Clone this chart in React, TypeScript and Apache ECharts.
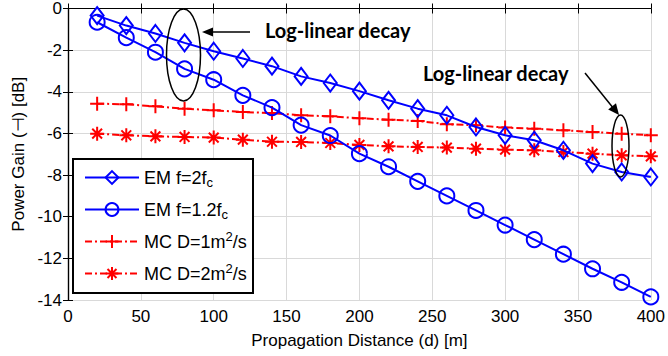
import React, { useEffect, useRef } from "react";
import * as echarts from "echarts";

const distances = [20, 40, 60, 80, 100, 120, 140, 160, 180, 200, 220, 240, 260, 280, 300, 320, 340, 360, 380, 400];
const emF2 = [-0.34, -0.82, -1.2, -1.65, -2.05, -2.4, -2.77, -3.26, -3.58, -3.97, -4.41, -4.81, -5.13, -5.69, -6.09, -6.33, -6.81, -7.45, -7.85, -8.09];
const emF12 = [-0.66, -1.4, -2.1, -2.9, -3.42, -4.17, -4.76, -5.6, -6.1, -6.97, -7.6, -8.3, -9.0, -9.7, -10.4, -11.1, -11.8, -12.5, -13.15, -13.85];
const mcD1 = [-4.57, -4.6, -4.7, -4.81, -4.89, -4.97, -5.02, -5.13, -5.18, -5.27, -5.34, -5.4, -5.56, -5.61, -5.72, -5.77, -5.85, -5.93, -6.01, -6.09];
const mcD2 = [-6.01, -6.09, -6.14, -6.17, -6.2, -6.3, -6.4, -6.41, -6.46, -6.55, -6.62, -6.65, -6.68, -6.73, -6.78, -6.81, -6.89, -6.97, -7.05, -7.1];

const seriesNames = ["EM f=2fc", "EM f=1.2fc", "MC D=1m2/s", "MC D=2m2/s"];
const legendRich = [
  "{t|EM f=2f}{sub|c}",
  "{t|EM f=1.2f}{sub|c}",
  "{t|MC D=1m}{sup|2}{t|/s}",
  "{t|MC D=2m}{sup|2}{t|/s}",
];
const annotationText = "Log-linear decay";

const FONT = "'Liberation Sans', Arial, sans-serif";
const BLUE = "#0000ff";
const RED = "#ff0000";

const pair = (ys: number[]) => distances.map((x, i) => [x, ys[i]]);

export default function App() {
  const ref = useRef<HTMLDivElement>(null);
  useEffect(() => {
    if (!ref.current) return;
    const chart = echarts.init(ref.current, null, { renderer: "svg" });
    const plus = "path://M0,-10L0,10M-10,0L10,0";
    const star = "path://M0,-10L0,10M-10,0L10,0M-7,-7L7,7M-7,7L7,-7";
    const axisCommon = {
      axisLine: { show: true, lineStyle: { color: "#000", width: 1.2 } },
      axisTick: { show: true, inside: true, length: 5, lineStyle: { color: "#000" } },
    };
    const annFont = "bold 20px Lato, 'Open Sans', sans-serif";
    chart.setOption({
      animation: false,
      backgroundColor: "#fff",
      grid: { left: 68, right: 16, top: 8, bottom: 56, show: false },
      xAxis: [
        {
          type: "value",
          min: 0,
          max: 400,
          interval: 50,
          ...axisCommon,
          axisLabel: { color: "#000", fontSize: 17, fontFamily: FONT, margin: 8 },
          splitLine: { show: true, lineStyle: { color: "#d9d9d9", width: 1 } },
          name: "Propagation Distance (d) [m]",
          nameLocation: "middle",
          nameGap: 32,
          nameTextStyle: { color: "#000", fontSize: 17, fontFamily: FONT, verticalAlign: "top" },
        },
        {
          type: "value",
          position: "top",
          min: 0,
          max: 400,
          interval: 50,
          ...axisCommon,
          axisLabel: { show: false },
          splitLine: { show: false },
        },
      ],
      yAxis: [
        {
          type: "value",
          min: -14,
          max: 0,
          interval: 2,
          ...axisCommon,
          axisLabel: { color: "#000", fontSize: 17, fontFamily: FONT, margin: 6 },
          splitLine: { show: true, lineStyle: { color: "#d9d9d9", width: 1 } },
          name: "Power Gain (⊣) [dB]",
          nameLocation: "middle",
          nameGap: 40,
          nameTextStyle: { color: "#000", fontSize: 17, fontFamily: FONT },
        },
        {
          type: "value",
          position: "right",
          min: -14,
          max: 0,
          interval: 2,
          ...axisCommon,
          axisLabel: { show: false },
          splitLine: { show: false },
        },
      ],
      legend: {
        orient: "vertical",
        left: 84,
        top: 166,
        padding: 0,
        itemWidth: 54,
        itemHeight: 16,
        itemGap: 9,
        z: 10,
        data: seriesNames,
        formatter: (name: string) => legendRich[seriesNames.indexOf(name)],
        textStyle: {
          color: "#000",
          fontFamily: FONT,
          fontSize: 18,
          rich: {
            t: { fontSize: 18, fontFamily: FONT, color: "#000", lineHeight: 24 },
            sub: { fontSize: 13, fontFamily: FONT, color: "#000", lineHeight: 14, padding: [10, 0, 0, 0] },
            sup: { fontSize: 13, fontFamily: FONT, color: "#000", lineHeight: 14, padding: [0, 0, 10, 0] },
          },
        },
      },
      graphic: [
        {
          type: "rect",
          z: 5,
          shape: { x: 73, y: 159, width: 180, height: 134 },
          style: { fill: "#fff", stroke: "#000", lineWidth: 2 },
        },
        {
          type: "ellipse",
          z: 6,
          shape: { cx: 183.5, cy: 55, rx: 17, ry: 46 },
          style: { fill: "none", stroke: "#000", lineWidth: 1.5 },
        },
        {
          type: "line",
          z: 6,
          shape: { x1: 250, y1: 32, x2: 208, y2: 32 },
          style: { stroke: "#000", lineWidth: 1.5 },
        },
        {
          type: "polygon",
          z: 6,
          shape: { points: [[202, 32], [213, 27.5], [213, 36.5]] },
          style: { fill: "#000" },
        },
        {
          type: "text",
          z: 6,
          x: 265,
          y: 30,
          style: { text: annotationText, fill: "#000", font: annFont, verticalAlign: "middle" },
        },
        {
          type: "ellipse",
          z: 6,
          shape: { cx: 620.5, cy: 146, rx: 8.5, ry: 31 },
          style: { fill: "none", stroke: "#000", lineWidth: 1.5 },
        },
        {
          type: "line",
          z: 6,
          shape: { x1: 585, y1: 73, x2: 614, y2: 109 },
          style: { stroke: "#000", lineWidth: 1.5 },
        },
        {
          type: "polygon",
          z: 6,
          shape: { points: [[619, 115], [608.2, 109.6], [616, 103.3]] },
          style: { fill: "#000" },
        },
        {
          type: "text",
          z: 6,
          x: 423,
          y: 73,
          style: { text: annotationText, fill: "#000", font: annFont, verticalAlign: "middle" },
        },
      ],
      series: [
        {
          name: seriesNames[0],
          type: "line",
          data: pair(emF2),
          symbol: "diamond",
          symbolSize: [13, 17],
          lineStyle: { color: BLUE, width: 2 },
          itemStyle: { color: "rgba(0,0,0,0)", borderColor: BLUE, borderWidth: 2 },
          z: 3,
        },
        {
          name: seriesNames[1],
          type: "line",
          data: pair(emF12),
          symbol: "circle",
          symbolSize: 15,
          lineStyle: { color: BLUE, width: 2 },
          itemStyle: { color: "rgba(0,0,0,0)", borderColor: BLUE, borderWidth: 2 },
          z: 3,
        },
        {
          name: seriesNames[2],
          type: "line",
          data: pair(mcD1),
          symbol: plus,
          symbolSize: 14,
          lineStyle: { color: RED, width: 2, type: [7, 3, 2, 3] },
          itemStyle: { color: RED, borderColor: RED, borderWidth: 2 },
          z: 2,
        },
        {
          name: seriesNames[3],
          type: "line",
          data: pair(mcD2),
          symbol: star,
          symbolSize: 14,
          lineStyle: { color: RED, width: 2, type: [7, 3, 2, 3] },
          itemStyle: { color: RED, borderColor: RED, borderWidth: 2 },
          z: 2,
        },
      ],
    });
    return () => chart.dispose();
  }, []);
  return (
    <div
      ref={ref}
      style={{ position: "fixed", left: 0, top: 0, width: 668, height: 356, background: "#fff" }}
    />
  );
}
